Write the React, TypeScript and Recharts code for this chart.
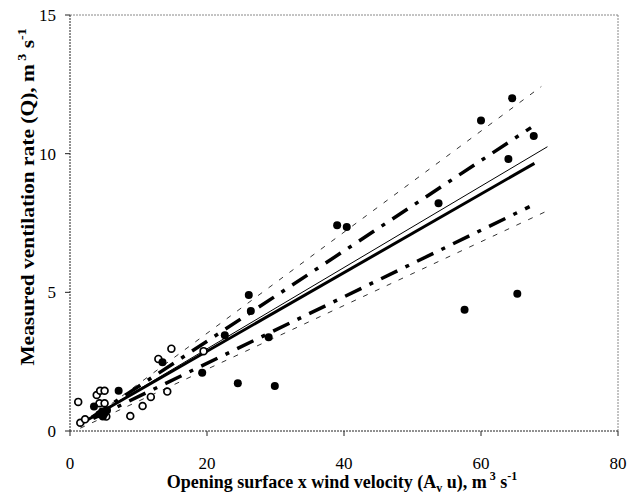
import React from 'react';
import { ComposedChart, XAxis, YAxis, Line, Scatter, Label, ReferenceLine } from 'recharts';

const xTicks = [0, 20, 40, 60, 80];
const yTicks = [0, 5, 10, 15];

const openPoints = [
  { x: 1.2, y: 1.05 }, { x: 1.5, y: 0.3 }, { x: 2.2, y: 0.42 }, { x: 3.9, y: 1.3 },
  { x: 4.4, y: 1.45 }, { x: 5.05, y: 1.45 }, { x: 4.3, y: 1.0 }, { x: 5.05, y: 1.0 },
  { x: 5.3, y: 0.52 }, { x: 8.8, y: 0.54 }, { x: 10.6, y: 0.9 }, { x: 11.8, y: 1.23 },
  { x: 14.2, y: 1.42 }, { x: 12.9, y: 2.6 }, { x: 14.8, y: 2.97 }, { x: 19.5, y: 2.88 },
];

const filledPoints = [
  { x: 3.5, y: 0.88 }, { x: 4.3, y: 0.6 }, { x: 4.7, y: 0.7 }, { x: 5.0, y: 0.62 },
  { x: 5.4, y: 0.75 }, { x: 4.8, y: 0.52 }, { x: 7.1, y: 1.45 }, { x: 13.5, y: 2.48 },
  { x: 19.3, y: 2.1 }, { x: 22.6, y: 3.45 }, { x: 24.5, y: 1.72 }, { x: 26.1, y: 4.9 },
  { x: 26.4, y: 4.33 }, { x: 29.0, y: 3.38 }, { x: 29.9, y: 1.62 }, { x: 39.0, y: 7.42 },
  { x: 40.4, y: 7.36 }, { x: 53.8, y: 8.21 }, { x: 57.6, y: 4.37 }, { x: 60.0, y: 11.2 },
  { x: 64.0, y: 9.81 }, { x: 64.55, y: 12.0 }, { x: 65.3, y: 4.95 }, { x: 67.7, y: 10.64 },
];

const thinSolid = [{ x: 1.5, y: 0.25 }, { x: 69.7, y: 10.25 }];
const thickSolid = [{ x: 1.75, y: 0.29 }, { x: 67.8, y: 9.65 }];
const upperDashDot = [{ x: 3.2, y: 0.5 }, { x: 67.3, y: 10.94 }];
const lowerDashDot = [{ x: 3.4, y: 0.45 }, { x: 67.1, y: 8.09 }];
const upperDashed = [{ x: 1.5, y: 0.15 }, { x: 68.8, y: 12.42 }];
const lowerDashed = [{ x: 1.5, y: 0.1 }, { x: 69.7, y: 7.94 }];

const FONT = 'Liberation Serif';

const OpenDot = (p: any) => (
  <circle cx={p.cx} cy={p.cy} r={3.4} fill="#fff" stroke="#000" strokeWidth={1.7} />
);
const FilledDot = (p: any) => <circle cx={p.cx} cy={p.cy} r={4} fill="#000" />;

const XTick = (p: any) => (
  <text x={p.x} y={p.y} dy={12} textAnchor="middle" fontFamily={FONT} fontSize={17} fill="#000">
    {p.payload.value}
  </text>
);
const YTick = (p: any) => (
  <text x={p.x} y={p.y} dy={6} textAnchor="end" fontFamily={FONT} fontSize={17} fill="#000">
    {p.payload.value}
  </text>
);

const XTitle = (props: any) => {
  const vb = props.viewBox || { x: 70, y: 431, width: 548, height: 64 };
  const cx = vb.x + vb.width / 2 - 2;
  return (
    <text x={cx} y={vb.y + 57} textAnchor="middle" fontFamily={FONT} fontWeight="bold" fontSize={18} fill="#000">
      Opening surface x wind velocity (A
      <tspan dy={4} fontSize={12}>v</tspan>
      <tspan dy={-4}> u), m</tspan>
      <tspan dy={-8} fontSize={12}> 3</tspan>
      <tspan dy={8}> s</tspan>
      <tspan dy={-8} fontSize={12}>-1</tspan>
    </text>
  );
};

const YTitle = () => {
  const cx = 28;
  const cy = 197;
  return (
    <text x={0} y={0} transform={`translate(${cx} ${cy}) rotate(-90) scale(1.16 1)`} dy={6} textAnchor="middle" fontFamily={FONT} fontWeight="bold" fontSize={18.5} fill="#000">
      Measured ventilation rate (Q), m
      <tspan dy={-8} fontSize={12}> 3</tspan>
      <tspan dy={8}> s</tspan>
      <tspan dy={-8} fontSize={12}>-1</tspan>
    </text>
  );
};

export default function App() {
  const lineCommon = {
    dataKey: 'y',
    dot: false,
    activeDot: false,
    isAnimationActive: false,
    type: 'linear' as const,
    legendType: 'none' as const,
  };
  return (
    <div style={{ width: 629, height: 495 }}>
      <style>{`body{margin:0;}`}</style>
      <ComposedChart width={629} height={495} margin={{ top: 15, right: 11, bottom: 0, left: 0 }}>
        <XAxis
          dataKey="x"
          type="number"
          domain={[0, 80]}
          ticks={xTicks}
          height={64}
          tickSize={5}
          tickMargin={21}
          tick={<XTick />}
          tickLine={{ stroke: '#222' }}
          axisLine={{ stroke: '#222', strokeDasharray: '2 1' }}
          allowDataOverflow
        >
          <Label content={<XTitle />} />
        </XAxis>
        <YAxis
          type="number"
          domain={[0, 15]}
          ticks={yTicks}
          width={70}
          tickSize={5}
          tickMargin={9}
          tick={<YTick />}
          tickLine={{ stroke: '#222' }}
          axisLine={{ stroke: '#222', strokeDasharray: '2 1' }}
          allowDataOverflow
        >
          <Label content={<YTitle />} />
        </YAxis>
        <ReferenceLine y={15} stroke="#888" strokeDasharray="2 1" />
        <ReferenceLine x={80} stroke="#888" strokeDasharray="2 1" />
        <Line {...lineCommon} data={upperDashed} stroke="#333" strokeWidth={1} strokeDasharray="5 8" />
        <Line {...lineCommon} data={lowerDashed} stroke="#333" strokeWidth={1} strokeDasharray="5 8" />
        <Line {...lineCommon} data={upperDashDot} stroke="#000" strokeWidth={3.5} strokeDasharray="18 9 4 9" />
        <Line {...lineCommon} data={lowerDashDot} stroke="#000" strokeWidth={3.5} strokeDasharray="18 9 4 9" />
        <Line {...lineCommon} data={thinSolid} stroke="#000" strokeWidth={1} />
        <Line {...lineCommon} data={thickSolid} stroke="#000" strokeWidth={3} />
        <Scatter data={openPoints} dataKey="y" shape={<OpenDot />} isAnimationActive={false} legendType="none" />
        <Scatter data={filledPoints} dataKey="y" shape={<FilledDot />} isAnimationActive={false} legendType="none" />
      </ComposedChart>
    </div>
  );
}
